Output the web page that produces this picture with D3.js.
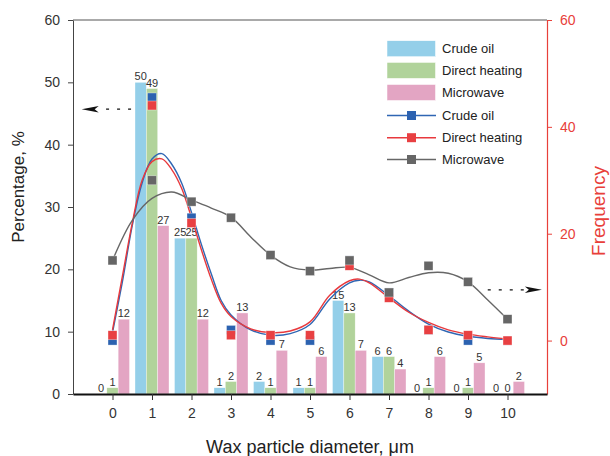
<!DOCTYPE html>
<html>
<head>
<meta charset="utf-8">
<script src="https://cdn.jsdelivr.net/npm/d3@7"></script>
<style>
  html, body { margin: 0; padding: 0; background: #fff; }
  svg { display: block; font-family: "Liberation Sans", Arial, sans-serif; }
</style>
</head>
<body>
<svg id="chart" width="610" height="456"></svg>
<script>
// ---------- data ----------
const categories = [0, 1, 2, 3, 4, 5, 6, 7, 8, 9, 10];
const seriesNames = ["Crude oil", "Direct heating", "Microwave"];

// percentage (bars, left axis)
const crudeOilPct      = [0, 50, 25, 1, 2, 1, 15, 6, 0, 0, 0];
const directHeatingPct = [1, 49, 25, 2, 1, 1, 13, 6, 1, 1, 0];
const microwavePct     = [12, 27, 12, 13, 7, 6, 7, 4, 6, 5, 2];

// frequency (square markers, right axis)
const crudeOilFreq      = [0, 45.5, 23, 2, 0, 0, 15, 9, 2, 0, 0];
const directHeatingFreq = [1, 44, 22, 1, 1, 1, 14, 8, 2, 1, 0];
const microwaveFreq     = [15, 30, 26, 23, 16, 13, 15, 9, 14, 11, 4];

// fitted curves
const fitX = [0, 0.25, 0.5, 0.75, 1, 1.25, 1.5, 1.75, 2, 2.25, 2.5, 2.75, 3, 3.5, 4, 4.5, 5, 5.5, 6, 6.25, 6.5, 7, 7.5, 8, 8.5, 9, 9.5, 10];
const crudeOilFit      = [1.5, 11, 21.5, 29.5, 34, 35, 33, 29.5, 24, 18, 12.5, 7.5, 4.8, 2, 1, 1.3, 3, 7.8, 10.8, 11.3, 11, 8.4, 5.5, 3.1, 1.6, 0.8, 0.4, 0.2];
const directHeatingFit = [2, 12, 22, 30, 33.5, 34, 32, 28.5, 23, 17, 11.5, 7, 4.5, 2.2, 1.5, 1.8, 3.5, 8.5, 11.2, 11.5, 10.8, 8, 5.3, 3.4, 2, 1.2, 0.7, 0.3];
const microwaveFitX = [0, 0.5, 1, 1.5, 2, 2.5, 3, 3.5, 4, 4.5, 5, 5.5, 6, 6.5, 7, 7.5, 8, 8.5, 9, 9.5, 10];
const microwaveFit  = [15, 22.5, 26.6, 27.8, 26.3, 24.8, 23.1, 19.4, 16, 13.8, 13.2, 13.5, 13.7, 12.3, 10.8, 11.8, 12.7, 12.6, 11, 7.6, 4];

const leftTicks = [0, 10, 20, 30, 40, 50, 60];
const rightTicks = [0, 20, 40, 60];

// ---------- styles ----------
const barColors = ["#94cfe9", "#b1d39b", "#e3a5c3"];
const lineColors = ["#2f66b3", "#e8393d", "#676767"];
const markerColors = ["#2c62b0", "#e84042", "#666666"];
const redAxis = "#e8403a";

// ---------- layout ----------
const svg = d3.select("#chart");
const L = 73, R = 547, T = 20, B = 394;

const x = d3.scaleLinear().domain([-1, 11]).range([L, R]);
const yL = d3.scaleLinear().domain([0, 60]).range([B, T]);
const yR = d3.scaleLinear().domain([-10, 60]).range([B, T]);

svg.append("rect").attr("width", 610).attr("height", 456).attr("fill", "#fff");

// top frame line
svg.append("line").attr("x1", L).attr("x2", R).attr("y1", T).attr("y2", T)
  .attr("stroke", "#555").attr("stroke-width", 1);

// ---------- bars ----------
const barW = 0.287; // in x units
const pctSeries = [crudeOilPct, directHeatingPct, microwavePct];
pctSeries.forEach((vals, si) => {
  const g = svg.append("g");
  g.selectAll("rect").data(categories).enter().append("rect")
    .attr("x", d => x(d + (si - 1) * barW - barW / 2))
    .attr("width", x(barW) - x(0))
    .attr("y", (d, i) => yL(vals[i]))
    .attr("height", (d, i) => B - yL(vals[i]))
    .attr("fill", barColors[si])
    .attr("stroke", "#fff").attr("stroke-width", 0.5).attr("stroke-opacity", 0.7);
});
pctSeries.forEach((vals, si) => {
  svg.append("g").selectAll("text").data(categories).enter().append("text")
    .attr("x", d => x(d + (si - 1) * barW))
    .attr("y", (d, i) => yL(vals[i]) - 2)
    .attr("text-anchor", "middle")
    .attr("font-size", 11)
    .attr("fill", "#333")
    .text((d, i) => vals[i]);
});

// ---------- axes ----------
const axL = svg.append("g").attr("transform", `translate(${L},0)`)
  .call(d3.axisLeft(yL).tickValues(leftTicks).tickSize(5).tickPadding(8).tickSizeOuter(0));
axL.select(".domain").attr("stroke", "#444");
axL.selectAll(".tick line").attr("stroke", "#444");
axL.selectAll("text").attr("font-size", 14).attr("fill", "#333").attr("font-family", null);

const axR = svg.append("g").attr("transform", `translate(${R},0)`)
  .call(d3.axisRight(yR).tickValues(rightTicks).tickSize(5).tickPadding(8).tickSizeOuter(0));
axR.select(".domain").attr("stroke", redAxis).attr("stroke-width", 1.2);
axR.selectAll(".tick line").attr("stroke", redAxis);
axR.selectAll("text").attr("font-size", 14).attr("fill", redAxis).attr("font-family", null);

const axB = svg.append("g").attr("transform", `translate(0,${B})`)
  .call(d3.axisBottom(x).tickValues(categories).tickFormat(d3.format("d")).tickSize(6).tickPadding(8).tickSizeOuter(0));
axB.select(".domain").attr("stroke", "#111").attr("stroke-width", 2);
axB.selectAll(".tick line").attr("stroke", "#333");
axB.selectAll("text").attr("font-size", 14).attr("fill", "#333").attr("font-family", null);

// ---------- fitted curves and markers ----------
const fits = [
  { xs: fitX, ys: crudeOilFit },
  { xs: fitX, ys: directHeatingFit },
  { xs: microwaveFitX, ys: microwaveFit }
];
const freqSeries = [crudeOilFreq, directHeatingFreq, microwaveFreq];
const lineGen = d3.line().curve(d3.curveCatmullRom.alpha(0.5));
const ms = 9;

[0, 1, 2].forEach(si => {
  const f = fits[si];
  const pts = f.xs.map((xv, i) => [x(xv), yR(f.ys[i])]);
  svg.append("path").attr("d", lineGen(pts)).attr("fill", "none")
    .attr("stroke", lineColors[si]).attr("stroke-width", 1.4);
});
[0, 1, 2].forEach(si => {
  const vals = freqSeries[si];
  svg.append("g").selectAll("rect").data(categories).enter().append("rect")
    .attr("x", d => x(d) - ms / 2)
    .attr("y", (d, i) => yR(vals[i]) - ms / 2)
    .attr("width", ms).attr("height", ms)
    .attr("fill", markerColors[si])
    .attr("stroke", "#fff").attr("stroke-width", 0.6).attr("stroke-opacity", 0.6);
});

// ---------- arrows ----------
function arrow(x1, x2, yy, dir) {
  // dashed line from x1 to x2, head at the end pointed by dir
  const g = svg.append("g");
  const headLen = 17, headH = 6.5;
  const tip = dir < 0 ? Math.min(x1, x2) : Math.max(x1, x2);
  const base = tip - dir * headLen;
  const lineStart = dir < 0 ? Math.max(x1, x2) : Math.min(x1, x2);
  g.append("line").attr("x1", lineStart).attr("x2", base).attr("y1", yy).attr("y2", yy)
    .attr("stroke", "#111").attr("stroke-width", 1.3).attr("stroke-dasharray", "3,8");
  g.append("path")
    .attr("d", `M${tip},${yy} L${base},${yy - headH / 2} L${base + dir * 4},${yy} L${base},${yy + headH / 2} Z`)
    .attr("fill", "#111");
}
arrow(x(-0.78), x(0.47), yL(45.7), -1);
arrow(x(9.5), x(10.87), yR(9.5), 1);

// ---------- axis titles ----------
svg.append("text")
  .attr("transform", `translate(24,${187}) rotate(-90)`)
  .attr("text-anchor", "middle").attr("font-size", 17).attr("fill", "#222")
  .text("Percentage, %");
svg.append("text")
  .attr("transform", `translate(605,${211}) rotate(-90)`)
  .attr("text-anchor", "middle").attr("font-size", 19).attr("fill", redAxis)
  .text("Frequency");
svg.append("text")
  .attr("x", 310).attr("y", 453)
  .attr("text-anchor", "middle").attr("font-size", 18).attr("fill", "#222")
  .text("Wax particle diameter, \u03bcm");

// ---------- legend ----------
const lg = svg.append("g");
const barRows = [48.7, 70.4, 92.5];
const lineRows = [115.5, 137.7, 159.5];
seriesNames.forEach((name, i) => {
  lg.append("rect").attr("x", 387).attr("y", barRows[i] - 8).attr("width", 48.5).attr("height", 16)
    .attr("fill", barColors[i]).attr("stroke", "#fff").attr("stroke-width", 0.5);
  lg.append("text").attr("x", 442).attr("y", barRows[i]).attr("dy", "0.35em")
    .attr("font-size", 13).attr("fill", "#222").text(name);
});
seriesNames.forEach((name, i) => {
  lg.append("line").attr("x1", 387).attr("x2", 436).attr("y1", lineRows[i]).attr("y2", lineRows[i])
    .attr("stroke", lineColors[i]).attr("stroke-width", 1.4);
  lg.append("rect").attr("x", 411.5 - 4.5).attr("y", lineRows[i] - 4.5).attr("width", 9).attr("height", 9)
    .attr("fill", markerColors[i]);
  lg.append("text").attr("x", 442).attr("y", lineRows[i]).attr("dy", "0.35em")
    .attr("font-size", 13).attr("fill", "#222").text(name);
});
</script>
</body>
</html>
